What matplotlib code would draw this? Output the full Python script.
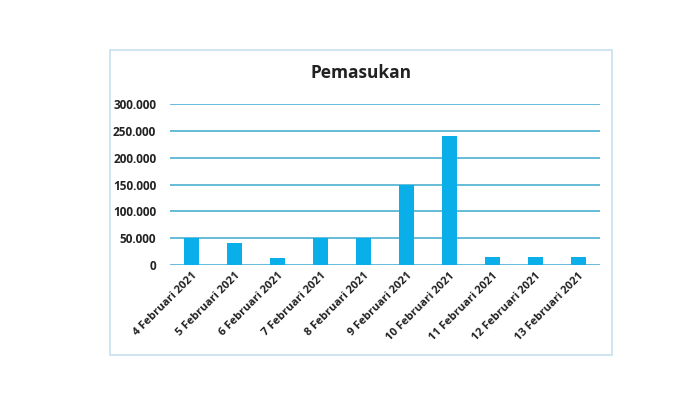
import matplotlib.pyplot as plt
from matplotlib.patches import Rectangle
import numpy as np

# Data
tanggal = ["4 Februari 2021", "5 Februari 2021", "6 Februari 2021", "7 Februari 2021",
           "8 Februari 2021", "9 Februari 2021", "10 Februari 2021", "11 Februari 2021",
           "12 Februari 2021", "13 Februari 2021"]
pemasukan = [50000, 40000, 12000, 50000, 50000, 150000, 240000, 15000, 15000, 15000]
y_ticks = [0, 50000, 100000, 150000, 200000, 250000, 300000]
y_labels = ["0", "50.000", "100.000", "150.000", "200.000", "250.000", "300.000"]

plt.rcParams['font.family'] = ['Open Sans', 'DejaVu Sans']

fig = plt.figure(figsize=(7, 3.93), dpi=100)
fig.patch.set_facecolor('white')

# Rahmen chart
fig.patches.append(Rectangle((0.157, 0.097), 0.717, 0.776, transform=fig.transFigure,
                             fill=False, edgecolor='#c6e2ee', linewidth=1.2))

ax = fig.add_axes([0.243, 0.326, 0.614, 0.409])
x = np.arange(len(tanggal))
ax.bar(x, pemasukan, width=0.35, color='#0aaee8', zorder=3)

ax.set_xlim(-0.5, len(tanggal) - 0.5)
ax.set_ylim(0, 300000)
ax.set_yticks(y_ticks)
ax.set_yticklabels(y_labels, fontsize=8.5, fontweight='bold', color='#222222')
ax.set_xticks(x)
ax.set_xticklabels(tanggal, rotation=45, ha='right', rotation_mode='anchor',
                   fontsize=8, fontweight='bold', color='#222222')
ax.tick_params(axis='both', length=0, pad=10)
ax.tick_params(axis='x', pad=4)

ax.grid(axis='y', color='#66bcd8', linewidth=1.4, zorder=0)
for s in ax.spines.values():
    s.set_visible(False)

fig.text(0.516, 0.815, "Pemasukan", ha='center', va='center', fontsize=12.5,
         fontweight='bold', color='#222222')

fig.savefig("out.png", dpi=100)
